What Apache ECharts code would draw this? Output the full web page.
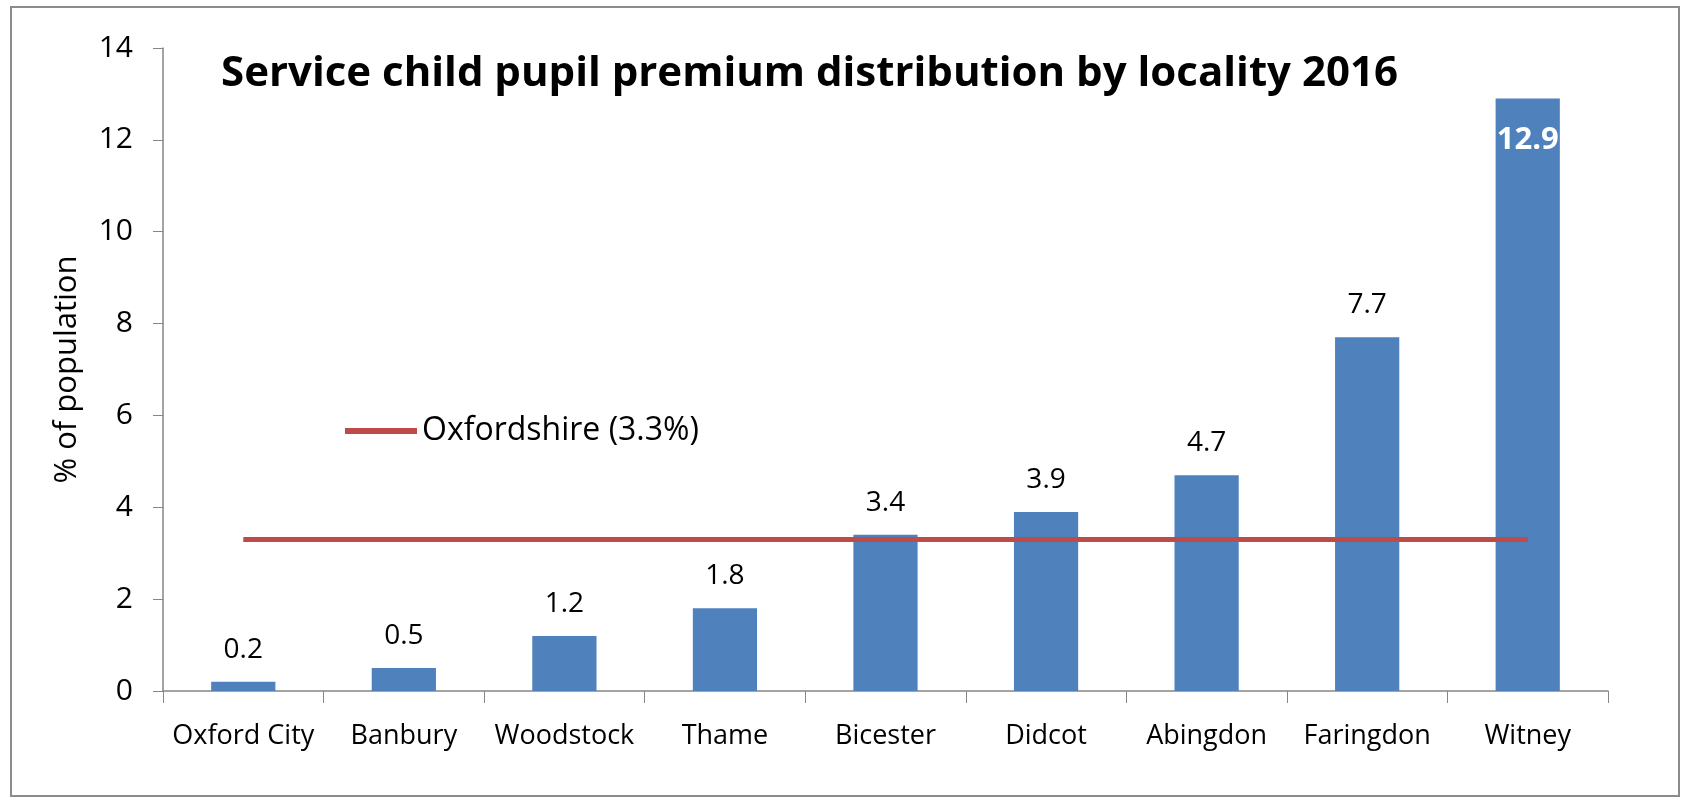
<!DOCTYPE html>
<html>
<head>
<meta charset="utf-8">
<title>Service child pupil premium distribution by locality 2016</title>
<script src="https://cdn.jsdelivr.net/npm/echarts@6/dist/echarts.min.js"></script>
<style>
    html, body {margin: 0; padding: 0; background: #fff;}
    #chart {width: 1686px; height: 800px;}
</style>
</head>
<body>
<div id="chart"></div>
<script>
// 地区
var localities = ['Oxford City', 'Banbury', 'Woodstock', 'Thame', 'Bicester', 'Didcot', 'Abingdon', 'Faringdon', 'Witney'];
// % of population
var pupilPremium = [0.2, 0.5, 1.2, 1.8, 3.4, 3.9, 4.7, 7.7, 12.9];
// county average
var oxfordshire = [3.3, 3.3, 3.3, 3.3, 3.3, 3.3, 3.3, 3.3, 3.3];
var yTicks = [0, 2, 4, 6, 8, 10, 12, 14];

var font = '"Open Sans", "Noto Sans", sans-serif';

var chart = echarts.init(document.getElementById('chart'));

var barData = pupilPremium.map(function (v, i) {
    if (i === pupilPremium.length - 1) {
        // last bar has its label inside, white and bold
        return {
            value: v,
            label: {position: 'insideTop', color: '#fff', fontWeight: 'bold', fontSize: 31, distance: 26}
        };
    }
    return v;
});

chart.setOption({
    animation: false,
    title: {
        text: 'Service child pupil premium distribution by locality 2016',
        left: 216,
        top: 48,
        textStyle: {fontFamily: font, fontWeight: 'bold', fontSize: 42, color: '#000'}
    },
    legend: {
        data: ['Oxfordshire (3.3%)'],
        left: 340,
        top: 410,
        itemWidth: 72,
        itemHeight: 6,
        icon: 'rect',
        textStyle: {fontFamily: font, fontSize: 32, color: '#000'}
    },
    grid: {left: 163, right: 78, top: 48, bottom: 109},
    xAxis: {
        type: 'category',
        data: localities,
        axisLine: {lineStyle: {color: '#868686', width: 1.5}},
        axisTick: {show: true, length: 12, lineStyle: {color: '#868686'}},
        axisLabel: {interval: 0, fontFamily: font, fontSize: 27, color: '#000', margin: 32}
    },
    yAxis: {
        type: 'value',
        min: yTicks[0],
        max: yTicks[yTicks.length - 1],
        interval: 2,
        name: '% of population',
        nameLocation: 'middle',
        nameGap: 80,
        nameTextStyle: {fontFamily: font, fontSize: 31, color: '#000'},
        axisLine: {show: true, lineStyle: {color: '#868686', width: 1.5}},
        axisTick: {show: true, inside: false, length: 10, lineStyle: {color: '#868686'}},
        splitLine: {show: false},
        axisLabel: {fontFamily: font, fontSize: 30, color: '#000', margin: 30}
    },
    graphic: [{
        type: 'rect',
        shape: {x: 11, y: 7, width: 1668, height: 789},
        style: {fill: 'none', stroke: '#8c8c8c', lineWidth: 2},
        silent: true
    }],
    series: [
        {
            name: '% of population',
            type: 'bar',
            data: barData,
            barWidth: '40%',
            itemStyle: {color: '#4F81BD'},
            label: {
                show: true,
                position: 'top',
                distance: 18,
                fontFamily: font,
                fontSize: 28,
                color: '#000'
            }
        },
        {
            name: 'Oxfordshire (3.3%)',
            type: 'line',
            data: oxfordshire,
            symbol: 'none',
            lineStyle: {color: '#BE4B48', width: 5},
            itemStyle: {color: '#BE4B48'}
        }
    ]
});
</script>
</body>
</html>
